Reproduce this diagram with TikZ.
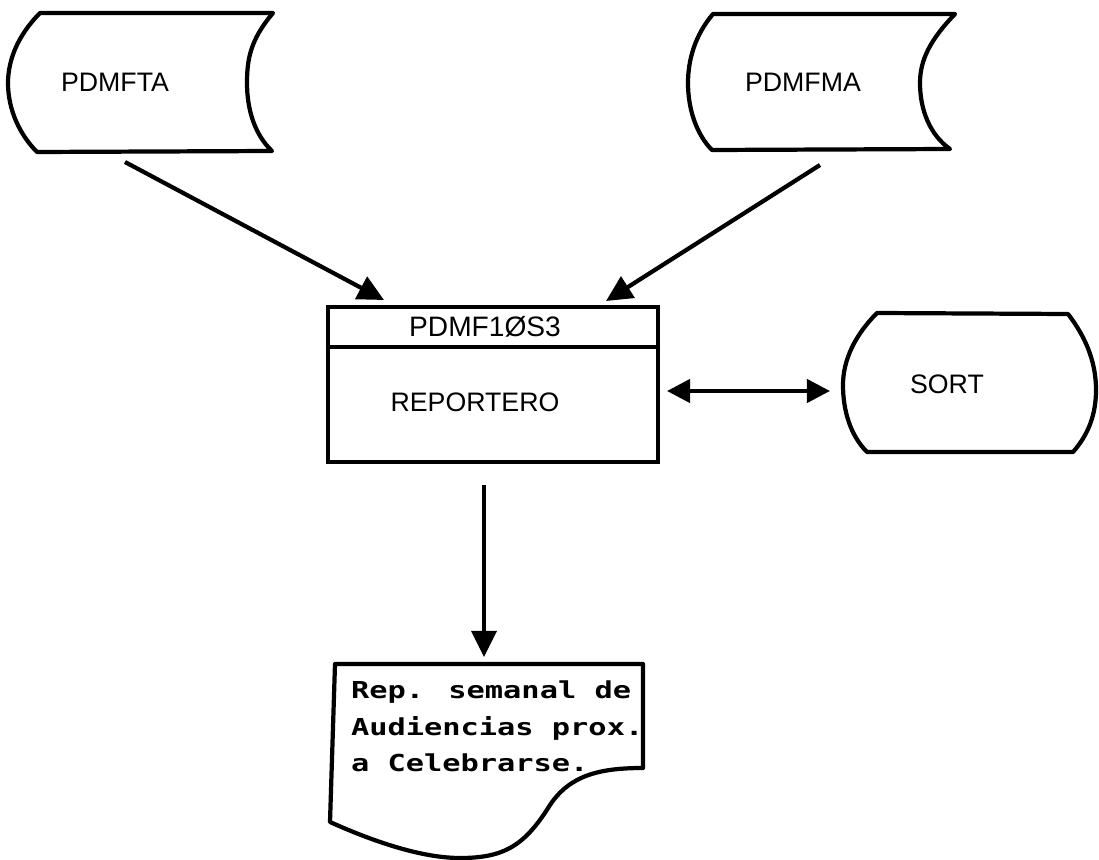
\documentclass[tikz,border=0pt]{standalone}
\usepackage{fontspec}
\setmainfont{Liberation Sans}
\newfontfamily\docfont[FakeStretch=1.3]{DejaVu Sans Mono}
\usetikzlibrary{arrows.meta}

\begin{document}
\begin{tikzpicture}[x=0.025cm, y=-0.025cm,
    every node/.style={font=\fontsize{19}{22}\selectfont, inner sep=0pt, outer sep=0pt},
    line/.style={line width=3pt, line join=round, line cap=round},
    box/.style={draw, line width=3pt, minimum width=8.25cm, minimum height=3.875cm},
    flow/.style={line width=3pt, -{Triangle[length=0.65cm,width=0.62cm]}},
    both/.style={line width=3pt, {Triangle[length=0.58cm,width=0.58cm]}-{Triangle[length=0.58cm,width=0.58cm]}}]
  \useasboundingbox (0,0) rectangle (1099,860);
  % archivos de entrada
  \draw[line] (40,13) -- (273,13) .. controls (250,40) and (247,60) .. (247,83)
    .. controls (247,110) and (255,135) .. (272,151) -- (37,152)
    .. controls (20,135) and (8,110) .. (8,83) .. controls (8,60) and (18,35) .. (40,13) -- cycle;
  \node (fta) at (115,82) {PDMFTA};
  \draw[line] (713,14) -- (955,14) .. controls (930,40) and (920,60) .. (920,83)
    .. controls (920,110) and (930,135) .. (950,149) -- (712,150)
    .. controls (697,135) and (688,110) .. (688,83) .. controls (688,60) and (695,35) .. (713,14) -- cycle;
  \node (fma) at (803,82) {PDMFMA};
  % programa
  \node[box] (proc) at (493,384.5) {};
  \draw[line] (328,347) -- (658,347);
  \node (procname) at (485,327) {\fontsize{20}{22}\selectfont PDMF1ØS3};
  \node (procdesc) at (475,402) {REPORTERO};
  % sort
  \draw[line] (877,313) -- (1068,314) .. controls (1088,340) and (1096,365) .. (1096,390)
    .. controls (1096,415) and (1088,435) .. (1073,452) -- (867,452)
    .. controls (850,435) and (843,410) .. (843,385) .. controls (843,360) and (855,335) .. (877,313) -- cycle;
  \node (sort) at (947,384) {SORT};
  % reporte
  \draw[line] (335,664) -- (643,664) -- (643,768)
    .. controls (600,768) and (570,775) .. (550,805)
    .. controls (525,845) and (505,858) .. (460,858)
    .. controls (420,858) and (370,840) .. (330,822) -- cycle;
  \node[anchor=north west, align=left, font=\docfont\bfseries\fontsize{16.6}{26}\selectfont] (rep) at (351,681)
    {Rep. semanal de\\Audiencias prox.\\a Celebrarse.};
  % conexiones
  \coordinate (fta out) at (125,162);
  \coordinate (fma out) at (820,165);
  \coordinate (proc in1) at (384,300);
  \coordinate (proc in2) at (606,301);
  \coordinate (proc out) at (484,485);
  \coordinate (rep in) at (484,657);
  \coordinate (proc right) at (667,391);
  \coordinate (sort left) at (830,391);
  \draw[flow] (fta out) -- (proc in1);
  \draw[flow] (fma out) -- (proc in2);
  \draw[flow] (proc out) -- (rep in);
  \draw[both] (proc right) -- (sort left);
\end{tikzpicture}
\end{document}
